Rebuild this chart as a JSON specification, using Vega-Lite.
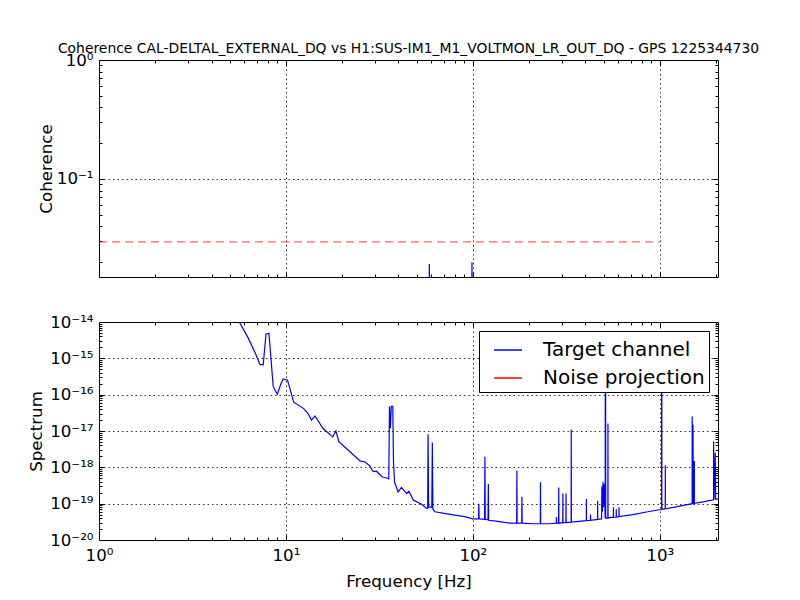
{
  "$schema": "https://vega.github.io/schema/vega-lite/v6.json",
  "background": "white",
  "padding": {"left": 28, "top": 41, "right": 5, "bottom": 5},
  "bounds": "flush",
  "spacing": 45,
  "config": {
    "font": "DejaVu Sans",
    "view": {"stroke": "black", "strokeWidth": 1},
    "axis": {
      "domain": false,
      "labelColor": "black",
      "tickColor": "black",
      "titleColor": "black",
      "labelFontSize": 16.67,
      "titleFontSize": 16.67,
      "titleFontWeight": "normal",
      "labelFont": "DejaVu Sans",
      "titleFont": "DejaVu Sans",
      "gridColor": "black",
      "gridOpacity": 1,
      "gridDash": [1.5, 3],
      "gridWidth": 0.8,
      "tickWidth": 1,
      "labelFlush": false,
      "labelOverlap": false
    }
  },
  "datasets": {
    "coherence": [
      {"f": 1, "c": 0.005}, {"f": 58.2, "c": 0.005}, {"f": 58.5, "c": 0.0193}, {"f": 58.8, "c": 0.005},
      {"f": 98.6, "c": 0.005}, {"f": 98.9, "c": 0.0200}, {"f": 99.2, "c": 0.005}, {"f": 2048, "c": 0.005}
    ],
    "threshold": [{"f": 1, "c": 0.0296}, {"f": 1000, "c": 0.0296}],
    "dummy": [{"f": 10, "c": 0.1, "v": 1e-17}],
    "spectrum": [
      {"f": 5.2, "v": 2e-14, "series": "Target channel"},
      {"f": 5.63, "v": 1e-14, "series": "Target channel"},
      {"f": 6.29, "v": 3.6e-15, "series": "Target channel"},
      {"f": 6.9, "v": 1.3e-15, "series": "Target channel"},
      {"f": 7.26, "v": 6.8e-16, "series": "Target channel"},
      {"f": 7.56, "v": 6.6e-16, "series": "Target channel"},
      {"f": 7.82, "v": 4.6e-15, "series": "Target channel"},
      {"f": 8.11, "v": 4.9e-15, "series": "Target channel"},
      {"f": 8.55, "v": 1.66e-16, "series": "Target channel"},
      {"f": 8.99, "v": 1.02e-16, "series": "Target channel"},
      {"f": 9.4, "v": 2.0e-16, "series": "Target channel"},
      {"f": 9.68, "v": 2.7e-16, "series": "Target channel"},
      {"f": 10.2, "v": 2.5e-16, "series": "Target channel"},
      {"f": 11.0, "v": 6.2e-17, "series": "Target channel"},
      {"f": 12.4, "v": 4.2e-17, "series": "Target channel"},
      {"f": 13.1, "v": 3.07e-17, "series": "Target channel"},
      {"f": 13.7, "v": 2.0e-17, "series": "Target channel"},
      {"f": 14.3, "v": 2.6e-17, "series": "Target channel"},
      {"f": 15.8, "v": 1.17e-17, "series": "Target channel"},
      {"f": 17.8, "v": 6.9e-18, "series": "Target channel"},
      {"f": 18.5, "v": 1.0e-17, "series": "Target channel"},
      {"f": 19.2, "v": 5.1e-18, "series": "Target channel"},
      {"f": 21.5, "v": 3.0e-18, "series": "Target channel"},
      {"f": 24.9, "v": 1.5e-18, "series": "Target channel"},
      {"f": 26.5, "v": 1.4e-18, "series": "Target channel"},
      {"f": 28.1, "v": 1.1e-18, "series": "Target channel"},
      {"f": 29.3, "v": 7.6e-19, "series": "Target channel"},
      {"f": 30.5, "v": 7.8e-19, "series": "Target channel"},
      {"f": 32.6, "v": 5.5e-19, "series": "Target channel"},
      {"f": 34.9, "v": 5.0e-19, "series": "Target channel"},
      {"f": 35.5, "v": 4.8e-19, "series": "Target channel"},
      {"f": 35.8, "v": 4.7e-17, "series": "Target channel"},
      {"f": 36.2, "v": 1.2e-17, "series": "Target channel"},
      {"f": 36.6, "v": 4.8e-17, "series": "Target channel"},
      {"f": 37.3, "v": 4.8e-17, "series": "Target channel"},
      {"f": 37.6, "v": 1.5e-18, "series": "Target channel"},
      {"f": 38.1, "v": 4e-19, "series": "Target channel"},
      {"f": 39.8, "v": 2.1e-19, "series": "Target channel"},
      {"f": 41.5, "v": 2.8e-19, "series": "Target channel"},
      {"f": 44.2, "v": 1.9e-19, "series": "Target channel"},
      {"f": 45.5, "v": 2.2e-19, "series": "Target channel"},
      {"f": 48, "v": 1.26e-19, "series": "Target channel"},
      {"f": 53.2, "v": 9.6e-20, "series": "Target channel"},
      {"f": 56.5, "v": 7.4e-20, "series": "Target channel"},
      {"f": 57.3, "v": 7.5e-20, "series": "Target channel"},
      {"f": 57.6, "v": 8.1e-18, "series": "Target channel"},
      {"f": 58.0, "v": 8e-20, "series": "Target channel"},
      {"f": 60.3, "v": 8e-20, "series": "Target channel"},
      {"f": 60.7, "v": 4.8e-18, "series": "Target channel"},
      {"f": 61.1, "v": 7e-20, "series": "Target channel"},
      {"f": 62.6, "v": 6e-20, "series": "Target channel"},
      {"f": 69.1, "v": 5.5e-20, "series": "Target channel"},
      {"f": 78.4, "v": 4.9e-20, "series": "Target channel"},
      {"f": 90.5, "v": 4.4e-20, "series": "Target channel"},
      {"f": 100, "v": 3.8e-20, "series": "Target channel"},
      {"f": 107.2, "v": 3.8e-20, "series": "Target channel"},
      {"f": 107.6, "v": 1.0e-19, "series": "Target channel"},
      {"f": 108, "v": 3.8e-20, "series": "Target channel"},
      {"f": 115.5, "v": 3.7e-20, "series": "Target channel"},
      {"f": 116, "v": 1.95e-18, "series": "Target channel"},
      {"f": 116.5, "v": 3.7e-20, "series": "Target channel"},
      {"f": 120.5, "v": 3.6e-20, "series": "Target channel"},
      {"f": 121, "v": 3.5e-19, "series": "Target channel"},
      {"f": 121.5, "v": 3.5e-20, "series": "Target channel"},
      {"f": 133, "v": 3.3e-20, "series": "Target channel"},
      {"f": 157, "v": 2.9e-20, "series": "Target channel"},
      {"f": 171.5, "v": 2.9e-20, "series": "Target channel"},
      {"f": 172, "v": 8.1e-19, "series": "Target channel"},
      {"f": 172.5, "v": 2.9e-20, "series": "Target channel"},
      {"f": 182.5, "v": 2.9e-20, "series": "Target channel"},
      {"f": 183, "v": 1.55e-19, "series": "Target channel"},
      {"f": 183.5, "v": 2.9e-20, "series": "Target channel"},
      {"f": 210, "v": 2.8e-20, "series": "Target channel"},
      {"f": 229.5, "v": 2.8e-20, "series": "Target channel"},
      {"f": 230, "v": 3.9e-19, "series": "Target channel"},
      {"f": 230.5, "v": 2.8e-20, "series": "Target channel"},
      {"f": 258, "v": 2.8e-20, "series": "Target channel"},
      {"f": 279.5, "v": 2.9e-20, "series": "Target channel"},
      {"f": 280, "v": 4.3e-20, "series": "Target channel"},
      {"f": 280.5, "v": 2.9e-20, "series": "Target channel"},
      {"f": 287.5, "v": 2.9e-20, "series": "Target channel"},
      {"f": 288, "v": 2.8e-19, "series": "Target channel"},
      {"f": 288.5, "v": 2.9e-20, "series": "Target channel"},
      {"f": 302.5, "v": 3e-20, "series": "Target channel"},
      {"f": 303, "v": 1.9e-19, "series": "Target channel"},
      {"f": 303.5, "v": 3e-20, "series": "Target channel"},
      {"f": 314.5, "v": 3e-20, "series": "Target channel"},
      {"f": 315, "v": 1.9e-19, "series": "Target channel"},
      {"f": 315.5, "v": 3e-20, "series": "Target channel"},
      {"f": 335.5, "v": 3.1e-20, "series": "Target channel"},
      {"f": 336, "v": 1.1e-17, "series": "Target channel"},
      {"f": 336.5, "v": 3.1e-20, "series": "Target channel"},
      {"f": 404.5, "v": 3.4e-20, "series": "Target channel"},
      {"f": 405, "v": 1.35e-19, "series": "Target channel"},
      {"f": 405.5, "v": 3.4e-20, "series": "Target channel"},
      {"f": 425.5, "v": 3.5e-20, "series": "Target channel"},
      {"f": 426, "v": 5e-20, "series": "Target channel"},
      {"f": 426.5, "v": 3.5e-20, "series": "Target channel"},
      {"f": 464.5, "v": 3.7e-20, "series": "Target channel"},
      {"f": 465, "v": 1.2e-19, "series": "Target channel"},
      {"f": 465.5, "v": 3.7e-20, "series": "Target channel"},
      {"f": 488, "v": 3.8e-20, "series": "Target channel"},
      {"f": 490, "v": 3.0e-19, "series": "Target channel"},
      {"f": 493, "v": 6e-20, "series": "Target channel"},
      {"f": 497, "v": 4e-19, "series": "Target channel"},
      {"f": 500, "v": 8e-20, "series": "Target channel"},
      {"f": 504, "v": 3.5e-19, "series": "Target channel"},
      {"f": 508, "v": 1e-19, "series": "Target channel"},
      {"f": 510.5, "v": 3.9e-20, "series": "Target channel"},
      {"f": 511, "v": 5e-16, "series": "Target channel"},
      {"f": 512, "v": 2e-17, "series": "Target channel"},
      {"f": 513, "v": 5e-16, "series": "Target channel"},
      {"f": 513.5, "v": 4e-20, "series": "Target channel"},
      {"f": 527.5, "v": 4e-20, "series": "Target channel"},
      {"f": 528, "v": 1.6e-17, "series": "Target channel"},
      {"f": 528.5, "v": 4e-20, "series": "Target channel"},
      {"f": 548, "v": 4.2e-20, "series": "Target channel"},
      {"f": 564.5, "v": 4.2e-20, "series": "Target channel"},
      {"f": 565, "v": 8e-20, "series": "Target channel"},
      {"f": 565.5, "v": 4.2e-20, "series": "Target channel"},
      {"f": 584.5, "v": 4.3e-20, "series": "Target channel"},
      {"f": 585, "v": 7e-20, "series": "Target channel"},
      {"f": 585.5, "v": 4.3e-20, "series": "Target channel"},
      {"f": 604.5, "v": 4.4e-20, "series": "Target channel"},
      {"f": 605, "v": 8e-20, "series": "Target channel"},
      {"f": 605.5, "v": 4.4e-20, "series": "Target channel"},
      {"f": 718, "v": 5e-20, "series": "Target channel"},
      {"f": 862, "v": 6e-20, "series": "Target channel"},
      {"f": 1000, "v": 6.8e-20, "series": "Target channel"},
      {"f": 1022.5, "v": 6.9e-20, "series": "Target channel"},
      {"f": 1023, "v": 5e-16, "series": "Target channel"},
      {"f": 1024, "v": 3e-17, "series": "Target channel"},
      {"f": 1025, "v": 5e-16, "series": "Target channel"},
      {"f": 1025.5, "v": 7e-20, "series": "Target channel"},
      {"f": 1069.5, "v": 7.2e-20, "series": "Target channel"},
      {"f": 1070, "v": 1.15e-18, "series": "Target channel"},
      {"f": 1070.5, "v": 7.2e-20, "series": "Target channel"},
      {"f": 1200, "v": 8e-20, "series": "Target channel"},
      {"f": 1340, "v": 9e-20, "series": "Target channel"},
      {"f": 1489.5, "v": 1e-19, "series": "Target channel"},
      {"f": 1490, "v": 2.5e-17, "series": "Target channel"},
      {"f": 1494, "v": 1e-19, "series": "Target channel"},
      {"f": 1505, "v": 1.5e-17, "series": "Target channel"},
      {"f": 1510, "v": 1e-19, "series": "Target channel"},
      {"f": 1529.5, "v": 1e-19, "series": "Target channel"},
      {"f": 1530, "v": 1.5e-18, "series": "Target channel"},
      {"f": 1530.5, "v": 1.02e-19, "series": "Target channel"},
      {"f": 1700, "v": 1.12e-19, "series": "Target channel"},
      {"f": 1939.5, "v": 1.28e-19, "series": "Target channel"},
      {"f": 1940, "v": 5.1e-18, "series": "Target channel"},
      {"f": 1950, "v": 1.3e-19, "series": "Target channel"},
      {"f": 1980, "v": 2.5e-18, "series": "Target channel"},
      {"f": 1990, "v": 1.32e-19, "series": "Target channel"},
      {"f": 2048, "v": 1.35e-19, "series": "Target channel"}
    ]
  },
  "resolve": {
    "scale": {"x": "independent", "y": "independent", "color": "independent"},
    "axis": {"x": "independent", "y": "independent"},
    "legend": {"color": "independent"}
  },
  "vconcat": [
    {
      "width": 619,
      "height": 217,
      "title": {
        "text": "Coherence CAL-DELTAL_EXTERNAL_DQ vs H1:SUS-IM1_M1_VOLTMON_LR_OUT_DQ - GPS 1225344730",
        "fontSize": 13.9,
        "fontWeight": "normal",
        "font": "DejaVu Sans",
        "color": "black",
        "anchor": "middle",
        "frame": "group",
        "offset": -4
      },
      "resolve": {"axis": {"x": "independent", "y": "independent"}},
      "layer": [
        {
          "data": {"name": "coherence"},
          "mark": {"type": "line", "color": "#0000ff", "strokeWidth": 1.2, "clip": true},
          "encoding": {
            "x": {"field": "f", "type": "quantitative", "scale": {"type": "log", "domain": [1, 2048], "nice": false},
                  "axis": {"orient": "bottom", "values": [1, 10, 100, 1000], "labels": false, "ticks": false, "grid": true, "title": null}},
            "y": {"field": "c", "type": "quantitative", "scale": {"type": "log", "domain": [0.015, 1], "nice": false},
                  "axis": {"orient": "left", "values": [1, 0.1], "labelExpr": "datum.value > 0.5 ? '10⁰' : '10⁻¹'", "ticks": false, "grid": true, "labelPadding": 6, "title": "Coherence", "titlePadding": 1}}
          }
        },
        {
          "data": {"name": "threshold"},
          "mark": {"type": "line", "color": "#ff0000", "opacity": 0.6, "strokeDash": [8, 5], "strokeWidth": 1.2, "clip": true},
          "encoding": {
            "x": {"field": "f", "type": "quantitative", "scale": {"type": "log", "domain": [1, 2048], "nice": false}, "axis": null},
            "y": {"field": "c", "type": "quantitative", "scale": {"type": "log", "domain": [0.015, 1], "nice": false}, "axis": null}
          }
        },
        {
          "data": {"name": "dummy"},
          "mark": {"type": "point", "opacity": 0},
          "encoding": {
            "x": {"field": "f", "type": "quantitative", "scale": {"type": "log", "domain": [1, 2048], "nice": false},
                  "axis": {"orient": "bottom", "values": [10, 100, 1000], "labels": false, "grid": false, "tickSize": -5, "title": null}},
            "y": {"field": "c", "type": "quantitative", "scale": {"type": "log", "domain": [0.015, 1], "nice": false},
                  "axis": {"orient": "left", "values": [0.1], "labels": false, "grid": false, "tickSize": -5, "title": null}}
          }
        },
        {
          "data": {"name": "dummy"},
          "mark": {"type": "point", "opacity": 0},
          "encoding": {
            "x": {"field": "f", "type": "quantitative", "scale": {"type": "log", "domain": [1, 2048], "nice": false},
                  "axis": {"orient": "bottom", "values": [2,3,4,5,6,7,8,9,20,30,40,50,60,70,80,90,200,300,400,500,600,700,800,900,2000], "labels": false, "grid": false, "tickSize": -3, "title": null}},
            "y": {"field": "c", "type": "quantitative", "scale": {"type": "log", "domain": [0.015, 1], "nice": false},
                  "axis": {"orient": "left", "values": [0.02,0.03,0.04,0.05,0.06,0.07,0.08,0.09,0.2,0.3,0.4,0.5,0.6,0.7,0.8,0.9], "labels": false, "grid": false, "tickSize": -3, "title": null}}
          }
        },
        {
          "data": {"name": "dummy"},
          "mark": {"type": "point", "opacity": 0},
          "encoding": {
            "x": {"field": "f", "type": "quantitative", "scale": {"type": "log", "domain": [1, 2048], "nice": false},
                  "axis": {"orient": "top", "values": [10, 100, 1000], "labels": false, "grid": false, "tickSize": -5, "title": null}},
            "y": {"field": "c", "type": "quantitative", "scale": {"type": "log", "domain": [0.015, 1], "nice": false},
                  "axis": {"orient": "right", "values": [0.1], "labels": false, "grid": false, "tickSize": -5, "title": null}}
          }
        },
        {
          "data": {"name": "dummy"},
          "mark": {"type": "point", "opacity": 0},
          "encoding": {
            "x": {"field": "f", "type": "quantitative", "scale": {"type": "log", "domain": [1, 2048], "nice": false},
                  "axis": {"orient": "top", "values": [2,3,4,5,6,7,8,9,20,30,40,50,60,70,80,90,200,300,400,500,600,700,800,900,2000], "labels": false, "grid": false, "tickSize": -3, "title": null}},
            "y": {"field": "c", "type": "quantitative", "scale": {"type": "log", "domain": [0.015, 1], "nice": false},
                  "axis": {"orient": "right", "values": [0.02,0.03,0.04,0.05,0.06,0.07,0.08,0.09,0.2,0.3,0.4,0.5,0.6,0.7,0.8,0.9], "labels": false, "grid": false, "tickSize": -3, "title": null}}
          }
        }
      ]
    },
    {
      "width": 619,
      "height": 218,
      "resolve": {"axis": {"x": "independent", "y": "independent"}},
      "layer": [
        {
          "data": {"name": "spectrum"},
          "mark": {"type": "line", "strokeWidth": 1.2, "clip": true},
          "encoding": {
            "x": {"field": "f", "type": "quantitative", "scale": {"type": "log", "domain": [1, 2048], "nice": false},
                  "axis": {"orient": "bottom", "values": [1, 10, 100, 1000], "labelExpr": "datum.value < 5 ? '10⁰' : datum.value < 50 ? '10¹' : datum.value < 500 ? '10²' : '10³'", "ticks": false, "grid": true, "labelPadding": 7, "title": "Frequency [Hz]", "titlePadding": 10}},
            "y": {"field": "v", "type": "quantitative", "scale": {"type": "log", "domain": [1e-20, 1e-14], "nice": false},
                  "axis": {"orient": "left", "values": [1e-14, 1e-15, 1e-16, 1e-17, 1e-18, 1e-19, 1e-20], "labelExpr": "datum.value > 5e-15 ? '10⁻¹⁴' : datum.value > 5e-16 ? '10⁻¹⁵' : datum.value > 5e-17 ? '10⁻¹⁶' : datum.value > 5e-18 ? '10⁻¹⁷' : datum.value > 5e-19 ? '10⁻¹⁸' : datum.value > 5e-20 ? '10⁻¹⁹' : '10⁻²⁰'", "ticks": false, "grid": true, "labelPadding": 6, "title": "Spectrum", "titlePadding": 4}},
            "color": {"field": "series", "type": "nominal",
                      "scale": {"domain": ["Target channel", "Noise projection"], "range": ["#0000ff", "#ff0000"]},
                      "legend": {"title": null, "orient": "top-right", "offset": 9, "strokeColor": "black", "fillColor": "white", "padding": 4,
                                 "labelFontSize": 20, "labelFont": "DejaVu Sans", "labelColor": "black", "symbolType": "stroke",
                                 "symbolSize": 784, "symbolStrokeWidth": 1.5, "labelOffset": 20, "symbolOffset": 10, "rowPadding": 3, "labelLimit": 400, "cornerRadius": 0}}
          }
        },
        {
          "data": {"name": "dummy"},
          "mark": {"type": "point", "opacity": 0},
          "encoding": {
            "x": {"field": "f", "type": "quantitative", "scale": {"type": "log", "domain": [1, 2048], "nice": false},
                  "axis": {"orient": "bottom", "values": [10, 100, 1000], "labels": false, "grid": false, "tickSize": -5, "title": null}},
            "y": {"field": "v", "type": "quantitative", "scale": {"type": "log", "domain": [1e-20, 1e-14], "nice": false},
                  "axis": {"orient": "left", "values": [1e-15, 1e-16, 1e-17, 1e-18, 1e-19], "labels": false, "grid": false, "tickSize": -5, "title": null}}
          }
        },
        {
          "data": {"name": "dummy"},
          "mark": {"type": "point", "opacity": 0},
          "encoding": {
            "x": {"field": "f", "type": "quantitative", "scale": {"type": "log", "domain": [1, 2048], "nice": false},
                  "axis": {"orient": "bottom", "values": [2,3,4,5,6,7,8,9,20,30,40,50,60,70,80,90,200,300,400,500,600,700,800,900,2000], "labels": false, "grid": false, "tickSize": -3, "title": null}},
            "y": {"field": "v", "type": "quantitative", "scale": {"type": "log", "domain": [1e-20, 1e-14], "nice": false},
                  "axis": {"orient": "left", "values": [2e-20,3e-20,4e-20,5e-20,6e-20,7e-20,8e-20,9e-20,2e-19,3e-19,4e-19,5e-19,6e-19,7e-19,8e-19,9e-19,2e-18,3e-18,4e-18,5e-18,6e-18,7e-18,8e-18,9e-18,2e-17,3e-17,4e-17,5e-17,6e-17,7e-17,8e-17,9e-17,2e-16,3e-16,4e-16,5e-16,6e-16,7e-16,8e-16,9e-16,2e-15,3e-15,4e-15,5e-15,6e-15,7e-15,8e-15,9e-15], "labels": false, "grid": false, "tickSize": -3, "title": null}}
          }
        },
        {
          "data": {"name": "dummy"},
          "mark": {"type": "point", "opacity": 0},
          "encoding": {
            "x": {"field": "f", "type": "quantitative", "scale": {"type": "log", "domain": [1, 2048], "nice": false},
                  "axis": {"orient": "top", "values": [10, 100, 1000], "labels": false, "grid": false, "tickSize": -5, "title": null}},
            "y": {"field": "v", "type": "quantitative", "scale": {"type": "log", "domain": [1e-20, 1e-14], "nice": false},
                  "axis": {"orient": "right", "values": [1e-15, 1e-16, 1e-17, 1e-18, 1e-19], "labels": false, "grid": false, "tickSize": -5, "title": null}}
          }
        },
        {
          "data": {"name": "dummy"},
          "mark": {"type": "point", "opacity": 0},
          "encoding": {
            "x": {"field": "f", "type": "quantitative", "scale": {"type": "log", "domain": [1, 2048], "nice": false},
                  "axis": {"orient": "top", "values": [2,3,4,5,6,7,8,9,20,30,40,50,60,70,80,90,200,300,400,500,600,700,800,900,2000], "labels": false, "grid": false, "tickSize": -3, "title": null}},
            "y": {"field": "v", "type": "quantitative", "scale": {"type": "log", "domain": [1e-20, 1e-14], "nice": false},
                  "axis": {"orient": "right", "values": [2e-20,3e-20,4e-20,5e-20,6e-20,7e-20,8e-20,9e-20,2e-19,3e-19,4e-19,5e-19,6e-19,7e-19,8e-19,9e-19,2e-18,3e-18,4e-18,5e-18,6e-18,7e-18,8e-18,9e-18,2e-17,3e-17,4e-17,5e-17,6e-17,7e-17,8e-17,9e-17,2e-16,3e-16,4e-16,5e-16,6e-16,7e-16,8e-16,9e-16,2e-15,3e-15,4e-15,5e-15,6e-15,7e-15,8e-15,9e-15], "labels": false, "grid": false, "tickSize": -3, "title": null}}
          }
        }
      ]
    }
  ]
}
